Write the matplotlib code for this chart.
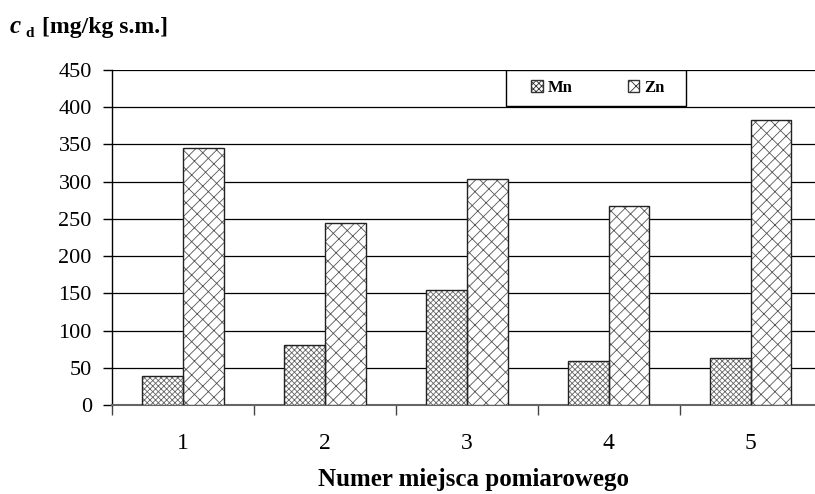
import matplotlib.pyplot as plt
from matplotlib.patches import Patch, Rectangle
import numpy as np

# dane z wykresu
miejsca = [1, 2, 3, 4, 5]
mn = [39, 80, 155, 59, 63]
zn = [345, 245, 304, 267, 383]
y_ticks = [0, 50, 100, 150, 200, 250, 300, 350, 400, 450]

plt.rcParams['font.family'] = ['Liberation Serif', 'DejaVu Serif']
plt.rcParams['hatch.linewidth'] = 0.6

fig = plt.figure(figsize=(8.15, 4.94), dpi=100, facecolor='white')
ax = fig.add_axes([0.1374, 1 - 405/494, 0.871, 335/494])

x = np.array(miejsca)
w = 0.286
hatch_mn = 'xxxxxx'
hatch_zn = '///\\\\'
# hatch pass (grey lines), then black outline
ax.bar(x - w/2, mn, w, color='white', edgecolor='#666666', hatch=hatch_mn, linewidth=0, zorder=3)
ax.bar(x + w/2, zn, w, color='white', edgecolor='#555555', hatch=hatch_zn, linewidth=0, zorder=3)
ax.bar(x - w/2, mn, w, fill=False, edgecolor='#222222', linewidth=1.0, zorder=4)
ax.bar(x + w/2, zn, w, fill=False, edgecolor='#222222', linewidth=1.0, zorder=4)

ax.set_xlim(0.5, 5.5)
ax.set_ylim(0, 450)
ax.set_yticks(y_ticks)
ax.yaxis.grid(True, color='black', linewidth=0.9, zorder=0)
ax.set_axisbelow(True)

ax.set_xticks(x)
ax.set_xticklabels([str(m) for m in miejsca])
ax.set_xticks(np.arange(0.5, 6.0, 1.0), minor=True)
ax.tick_params(axis='x', which='major', length=0, pad=20, labelsize=17)
ax.tick_params(axis='x', which='minor', length=7, direction='out', width=1, color='#444444')
ax.tick_params(axis='y', length=6.5, direction='out', width=1, labelsize=16, pad=8)

for s in ['top', 'right']:
    ax.spines[s].set_visible(False)
ax.spines['left'].set_linewidth(1.0)
ax.spines['bottom'].set_color('#666666')
ax.spines['bottom'].set_linewidth(1.5)

fig.text(473/815, 1 - 486/494, 'Numer miejsca pomiarowego', fontsize=18, fontweight='bold',
         ha='center', va='baseline')

# tytul osi y: c_d [mg/kg s.m.]
fig.text(10/815, 1 - 33/494, 'c', fontsize=18, fontweight='bold', fontstyle='italic',
         ha='left', va='baseline')
fig.text(25/815, 1 - 37/494, 'd', fontsize=11, fontweight='bold', ha='left', va='baseline')
fig.text(42/815, 1 - 33/494, '[mg/kg s.m.]', fontsize=17, fontweight='bold',
         ha='left', va='baseline')

# legenda
ax.add_patch(Rectangle((506/815, 1 - 106/494), 180/815, 36/494, transform=fig.transFigure,
                       facecolor='white', edgecolor='black', linewidth=1.0, zorder=5))
handles = [Patch(facecolor='white', edgecolor='#333333', hatch=hatch_mn, label='Mn'),
           Patch(facecolor='white', edgecolor='#333333', hatch=hatch_zn, label='Zn')]
leg = ax.legend(handles=handles, loc='center',
                bbox_to_anchor=((528 - 112)/710, 1 - 36/335, (668 - 528)/710, 36/335),
                mode='expand', ncol=2, frameon=False, prop={'weight': 'bold', 'size': 12},
                handlelength=0.7, handleheight=0.7, handletextpad=0.3, borderaxespad=0,
                borderpad=0.2)
leg.set_zorder(6)

fig.savefig('out.png', dpi=100)
